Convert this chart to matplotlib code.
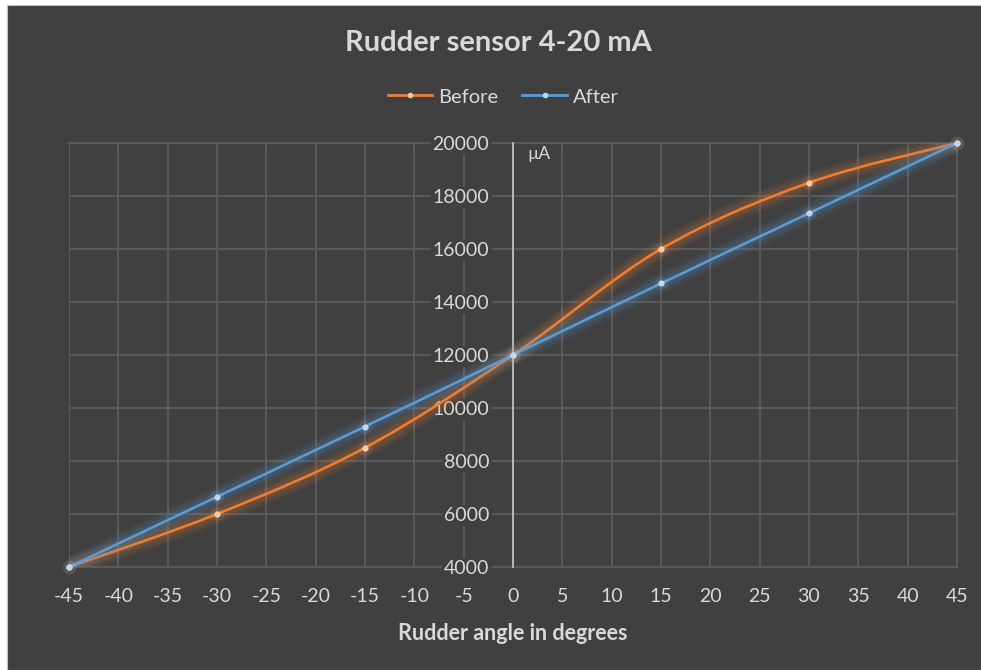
import matplotlib.pyplot as plt
import matplotlib.patheffects as pe
from matplotlib.path import Path
from matplotlib.patches import PathPatch, Rectangle
from matplotlib.lines import Line2D
import numpy as np

plt.rcParams['font.family'] = ['Lato', 'DejaVu Sans']

angle = [-45, -30, -15, 0, 15, 30, 45]
before = [4000, 6000, 8500, 12000, 16000, 18500, 20000]
after = [4000, 6650, 9300, 12000, 14700, 17350, 20000]
xticks = list(range(-45, 50, 5))
yticks = list(range(4000, 22000, 2000))

bg = '#404040'
grid_c = '#595959'
txt = '#d9d9d9'
c_before = '#ed7d31'
c_after = '#5b9bd5'
m_before = '#f8cbad'
m_after = '#bdd7ee'


def smooth_path(x, y):
    # Excel-style smoothed line: Catmull-Rom as cubic Bezier segments
    p = np.column_stack([x, y]).astype(float)
    ext = np.vstack([p[0], p, p[-1]])
    verts = [p[0]]
    codes = [Path.MOVETO]
    for i in range(1, len(ext) - 2):
        p0, p1, p2, p3 = ext[i - 1], ext[i], ext[i + 1], ext[i + 2]
        verts += [p1 + (p2 - p0) / 6, p2 - (p3 - p1) / 6, p2]
        codes += [Path.CURVE4] * 3
    return Path(verts, codes)


fig = plt.figure(figsize=(9.81, 6.70), dpi=100, facecolor='white')
fig.patches.append(Rectangle((7 / 981, 0), 1, 1 - 5 / 670, transform=fig.transFigure,
                             facecolor=bg, edgecolor='#bfbfbf', linewidth=0.8, zorder=-10))

ax = fig.add_axes([69 / 981, 103 / 670, 888 / 981, 424 / 670])
ax.set_facecolor(bg)
ax.set_xlim(-45, 45)
ax.set_ylim(4000, 20000)
ax.set_xticks(xticks)
ax.set_yticks(yticks)
ax.grid(True, color=grid_c, linewidth=1.5)
ax.set_axisbelow(True)

for s in ['top', 'right', 'bottom']:
    ax.spines[s].set_color(grid_c)
    ax.spines[s].set_linewidth(1.5)
    ax.spines[s].set_zorder(0.4)
ax.spines['left'].set_position(('data', 0))
ax.spines['left'].set_color('#bfbfbf')
ax.spines['left'].set_linewidth(1.3)
ax.spines['left'].set_zorder(1)

ax.tick_params(axis='both', length=0, labelcolor=txt, labelsize=14)
ax.tick_params(axis='x', pad=15)
ax.tick_params(axis='y', pad=17)
ax.set_xticklabels([str(v) for v in xticks])
for lab in ax.get_yticklabels():
    lab.set_bbox(dict(facecolor=bg, edgecolor='none', pad=1.5))

for yv, col, mc in [(before, c_before, m_before), (after, c_after, m_after)]:
    path = smooth_path(angle, yv)
    glow = [pe.Stroke(linewidth=w, foreground=col, alpha=0.07) for w in (14, 11, 8, 6)]
    patch = PathPatch(path, fill=False, edgecolor=col, linewidth=1.9, capstyle='round',
                      path_effects=glow + [pe.Normal()], zorder=3)
    ax.add_patch(patch)
    ax.plot(angle, yv, 'o', color='white', markersize=10, alpha=0.06, markeredgewidth=0,
            clip_on=False, zorder=4)
    ax.plot(angle, yv, 'o', color=mc, markersize=4.5, markeredgewidth=0,
            clip_on=False, zorder=5)

ax.text(1.5, 19600, 'µA', color=txt, fontsize=12.5, ha='left', va='center')

fig.text(0.508, 1 - 43 / 670, 'Rudder sensor 4-20 mA', color=txt, fontsize=21,
         fontweight='bold', ha='center', va='center')
fig.text(513 / 981, 1 - 634 / 670, 'Rudder angle in degrees', color=txt, fontsize=15.5,
         fontweight='bold', ha='center', va='center')

handles = [Line2D([], [], color=c, linewidth=2, marker='o', markersize=4,
                  markerfacecolor=m, markeredgewidth=0)
           for c, m in ((c_before, m_before), (c_after, m_after))]
leg = fig.legend(handles, ['Before', 'After'], loc='center', bbox_to_anchor=(0.513, 1 - 97 / 670),
                 ncol=2, frameon=False, fontsize=14.5, handlelength=2.2, columnspacing=1.2,
                 handletextpad=0.3)
for t in leg.get_texts():
    t.set_color(txt)

fig.savefig('out.png', dpi=100, facecolor='white')
